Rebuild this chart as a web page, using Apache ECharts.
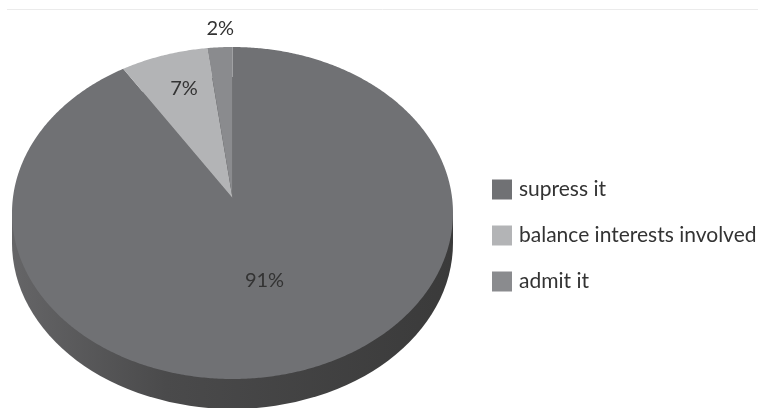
<!DOCTYPE html>
<html>
<head>
<meta charset="utf-8">
<title>Pie</title>
<script src="https://cdn.jsdelivr.net/npm/echarts@6/dist/echarts.min.js"></script>
<style>
  html, body { margin: 0; padding: 0; background: #fff; }
  #chart { width: 758px; height: 408px; }
</style>
</head>
<body>
<div id="chart"></div>
<script>
// Answer categories and their shares (percent)
const categories = ['supress it', 'balance interests involved', 'admit it'];
const shares = [91, 7, 2];
const sliceLabels = ['91%', '7%', '2%'];

// Styling
const sliceColors = ['#707174', '#b3b4b6', '#8a8b8e'];
const FONT = 'Lato, "Open Sans", sans-serif';
const TEXT_COLOR = '#333333';

// Disc seen in perspective: outline ellipse, with the disc centre projected a bit higher
const CX = 232.5, CY = 213, RX = 220.5, RY = 166, DEPTH = 30;
const HUB_LIFT = 15;                 // screen offset of the projected disc centre
const PC = HUB_LIFT / RY;            // perspective factor
const AX = RX * Math.sqrt(1 - PC * PC);
const TILT = RY / RX;
// where each value label sits (fraction of radius) and a small sideways nudge
const labelRadius = [0.5, 0.75, 1.14];
const labelShiftX = [0, 4, 2];

const total = shares.reduce((a, b) => a + b, 0);

// project a point on the disc (angle clockwise from the back, radius fraction f) to the screen
function project(theta, f) {
  const u = f * Math.sin(theta), w = f * Math.cos(theta);
  const d = 1 + PC * w;
  return [CX + AX * u / d, CY - RY * (w + PC) / d];
}

function sideGradient() {
  return new echarts.graphic.LinearGradient(0, 0, 1, 0, [
    { offset: 0, color: '#656567' },
    { offset: 0.35, color: '#4a4a4b' },
    { offset: 1, color: '#3a3a3a' }
  ]);
}

function makeRender(idx) {
  return function (params, api) {
    const before = shares.slice(0, idx).reduce((a, b) => a + b, 0);
    const v = api.value(0);
    const t0 = before / total * Math.PI * 2;
    const t1 = t0 + v / total * Math.PI * 2;
    const children = [];
    if (idx === 0) {
      // rim of the disc
      children.push({
        type: 'circle',
        shape: { cx: CX, cy: CY + DEPTH, r: RX },
        originX: CX, originY: CY + DEPTH, scaleY: TILT,
        style: { fill: sideGradient() }
      });
      children.push({
        type: 'rect',
        shape: { x: CX - RX, y: CY, width: RX * 2, height: DEPTH },
        style: { fill: sideGradient() }
      });
    }
    const steps = Math.max(2, Math.ceil((t1 - t0) / (Math.PI / 360)));
    const pts = [project(0, 0)];
    for (let s = 0; s <= steps; s++) {
      pts.push(project(t0 + (t1 - t0) * s / steps, 1));
    }
    children.push({
      type: 'polygon',
      shape: { points: pts },
      style: { fill: api.visual('color') }
    });
    const mid = (t0 + t1) / 2;
    const lp = project(mid, labelRadius[idx]);
    children.push({
      type: 'text',
      x: lp[0] + labelShiftX[idx],
      y: lp[1],
      style: {
        text: sliceLabels[idx],
        fontSize: 20,
        fontFamily: FONT,
        fill: TEXT_COLOR,
        align: 'center',
        verticalAlign: 'middle'
      }
    });
    return { type: 'group', children: children };
  };
}

const chart = echarts.init(document.getElementById('chart'), null, { renderer: 'canvas' });

chart.setOption({
  animation: false,
  backgroundColor: '#ffffff',
  graphic: [{
    type: 'line',
    shape: { x1: 7, y1: 9.5, x2: 758, y2: 9.5 },
    style: { stroke: '#ebebeb', lineWidth: 1 }
  }],
  legend: {
    orient: 'vertical',
    left: 492,
    top: 179,
    padding: 0,
    icon: 'rect',
    itemWidth: 20,
    itemHeight: 20,
    itemGap: 25,
    data: categories,
    textStyle: { fontSize: 21, lineHeight: 20, fontFamily: FONT, color: TEXT_COLOR, padding: [0, 0, 0, 2] }
  },
  series: categories.map((name, i) => ({
    type: 'custom',
    name: name,
    coordinateSystem: 'none',
    itemStyle: { color: sliceColors[i] },
    renderItem: makeRender(i),
    data: [shares[i]]
  }))
});
</script>
</body>
</html>
